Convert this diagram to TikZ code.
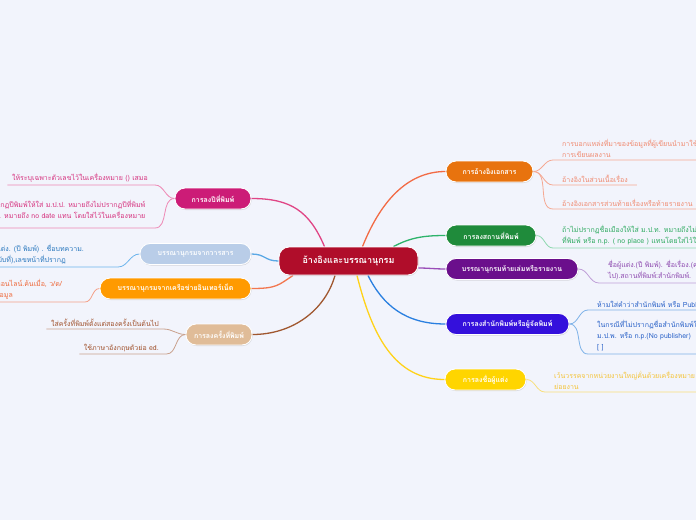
\documentclass[tikz,border=0pt]{standalone}
\usepackage{fontspec}
\setmainfont[Script=Thai]{Loma}
\usetikzlibrary{shadows,calc}
\pgfdeclarelayer{bgl}
\pgfdeclarelayer{lines}
\pgfsetlayers{bgl,lines,main}
\definecolor{bgc}{HTML}{F2F4FC}
\definecolor{cC}{HTML}{B00D2A}
\definecolor{cO}{HTML}{E8730E}
\definecolor{lO}{HTML}{F26B45}
\definecolor{tO}{HTML}{F08A70}
\definecolor{uO}{HTML}{F5A892}
\definecolor{cG}{HTML}{1F8B3B}
\definecolor{lG}{HTML}{2DB36B}
\definecolor{tG}{HTML}{2EAA60}
\definecolor{uG}{HTML}{8FD8B0}
\definecolor{cP}{HTML}{6B0F8C}
\definecolor{lP}{HTML}{9A4DB8}
\definecolor{tP}{HTML}{8E4BB0}
\definecolor{uP}{HTML}{C0A0D8}
\definecolor{cB}{HTML}{3410DC}
\definecolor{lB}{HTML}{2A7FE0}
\definecolor{tB}{HTML}{2A62C8}
\definecolor{uB}{HTML}{7EB2E8}
\definecolor{cY}{HTML}{FFD500}
\definecolor{lY}{HTML}{FFD21A}
\definecolor{tY}{HTML}{F4C43A}
\definecolor{uY}{HTML}{F8DF7A}
\definecolor{cM}{HTML}{CC1C77}
\definecolor{lM}{HTML}{E04585}
\definecolor{tM}{HTML}{D6337F}
\definecolor{uM}{HTML}{EE88B5}
\definecolor{cL}{HTML}{B9CDE8}
\definecolor{lL}{HTML}{5AA8E5}
\definecolor{tL}{HTML}{2A78BE}
\definecolor{uL}{HTML}{6CB4EC}
\definecolor{cOL}{HTML}{FF9A00}
\definecolor{lOL}{HTML}{F2774F}
\definecolor{tOL}{HTML}{EE6A3C}
\definecolor{uOL}{HTML}{F4A088}
\definecolor{cT}{HTML}{E0BC98}
\definecolor{lT}{HTML}{A0572F}
\definecolor{tT}{HTML}{A0522D}
\definecolor{uT}{HTML}{C9A08C}
\begin{document}
\begin{tikzpicture}[x=1pt,y=-1pt,
  topic/.style={rounded corners=10pt, draw=white, line width=0.9pt, text=white,
    font=\bfseries\fontsize{7}{8}\selectfont, minimum height=21pt, inner sep=0pt,
    drop shadow={opacity=0.25, shadow xshift=0.6pt, shadow yshift=-1pt}},
  rtext/.style={anchor=south west, inner xsep=9pt, inner ysep=2.5pt, align=left,
    font=\fontsize{7}{11}\selectfont},
  ltext/.style={anchor=south east, inner xsep=4.5pt, inner ysep=2.5pt, align=right,
    font=\fontsize{7}{11}\selectfont},
  branch/.style={line width=1.3pt},
  twig/.style={line width=0.8pt}]
\useasboundingbox (0,0) rectangle (696,520);
\begin{pgfonlayer}{bgl}
\fill[bgc] (0,0) rectangle (696,520);
\end{pgfonlayer}
\clip (0,0) rectangle (696,520);
% main nodes
\node[topic, fill=cC, minimum width=139pt, minimum height=28pt, font=\bfseries\fontsize{9}{10}\selectfont] (C) at (348.5,261) {อ้างอิงและบรรณานุกรม};
\node[topic, fill=cO, minimum width=87pt] (O) at (489.5,171.5) {การอ้างอิงเอกสาร};
\node[topic, fill=cG, minimum width=90pt] (G) at (491,235.5) {การลงสถานที่พิมพ์};
\node[topic, fill=cP, minimum width=132pt] (P) at (512,269) {บรรณานุกรมท้ายเล่มหรือรายงาน};
\node[topic, fill=cB, minimum width=123pt] (B) at (507.5,324) {การลงสำนักพิมพ์หรือผู้จัดพิมพ์};
\node[topic, fill=cY, minimum width=81pt] (Y) at (485.5,379.5) {การลงชื่อผู้แต่ง};
\node[topic, fill=cM, minimum width=76pt] (M) at (213,198.5) {การลงปีที่พิมพ์};
\node[topic, fill=cL, minimum width=111pt] (L) at (195.5,254) {บรรณานุกรมจากวารสาร};
\node[topic, fill=cOL, minimum width=151pt] (OL) at (175.5,288.5) {บรรณานุกรมจากเครือข่ายอินเทอร์เน็ต};
\node[topic, fill=cT, minimum width=66pt] (T) at (219,334.5) {การลงครั้งที่พิมพ์};
% child texts right
\node[rtext, text=tO] (o1) at (553,160) {การบอกแหล่งที่มาของข้อมูลที่ผู้เขียนนำมาใช้ใน\\การเขียนผลงาน};
\node[rtext, text=tO] (o2) at (553,185) {อ้างอิงในส่วนเนื้อเรื่อง};
\node[rtext, text=tO] (o3) at (553,209) {อ้างอิงเอกสารส่วนท้ายเรื่องหรือท้ายรายงาน};
\node[rtext, text=tG] (g1) at (553,248) {ถ้าไม่ปรากฏชื่อเมืองให้ใส่ ม.ป.ท. หมายถึงไม่ปรากฏสถาน\\ที่พิมพ์ หรือ n.p. ( no place ) แทนโดยใส่ไว้ใน};
\node[rtext, text=tP] (p1) at (599,283) {ชื่อผู้แต่ง.(ปี พิมพ์). ชื่อเรื่อง.(ครั้งที่พิมพ์\\ไป).สถานที่พิมพ์:สำนักพิมพ์.};
\node[rtext, text=tB] (b1) at (588,310) {ห้ามใส่คำว่าสำนักพิมพ์ หรือ Publisher};
\node[rtext, text=tB] (b2) at (588,354) {ในกรณีที่ไม่ปรากฏชื่อสำนักพิมพ์ให้ใส่\\ม.ป.พ. หรือ n.p.(No publisher)\\{[ ]}};
\node[rtext, text=tY] (y1) at (545,392) {เว้นวรรคจากหน่วยงานใหญ่คั่นด้วยเครื่องหมาย\\ย่อยงาน};
% child texts left
\node[ltext, text=tM] (m1) at (152.5,185) {ให้ระบุเฉพาะตัวเลขไว้ในเครื่องหมาย () เสมอ};
\node[ltext, text=tM, inner ysep=9pt] (m2) at (150,228) {ถ้าไม่ปรากฏปีพิมพ์ให้ใส่ ม.ป.ป. หมายถึงไม่ปรากฏปีที่พิมพ์\\หรือ n.d. หมายถึง no date แทน โดยใส่ไว้ในเครื่องหมาย};
\node[ltext, text=tL] (l1) at (88.5,267) {ชื่อผู้แต่ง. (ปี พิมพ์) . ชื่อบทความ.\\ชื่อวารสาร, ปีที่(ฉบับที่),เลขหน้าที่ปรากฏ\hspace*{18pt}};
\node[ltext, text=tOL] (ol1) at (66.5,302) {ชื่อผู้แต่ง. (ปี พิมพ์). ชื่อเรื่อง. ออนไลน์.ค้นเมื่อ, ว/ด/\\ปี, จากแหล่งข้อมูล\hspace*{49pt}};
\node[ltext, text=tT] (t1) at (163.5,329) {ใส่ครั้งที่พิมพ์ตั้งแต่สองครั้งเป็นต้นไป};
\node[ltext, text=tT] (t2) at (163.5,354) {ใช้ภาษาอังกฤษตัวย่อ ed.};
\begin{pgfonlayer}{lines}
% main branches
\draw[branch, lO] ([xshift=14pt]C.north) .. controls +(20,-50) and +(-35,0) .. (O.west);
\draw[branch, lG] ([xshift=45pt]C.north) .. controls +(17,-9) and +(-22,0) .. (G.west);
\draw[branch, lP] ([yshift=-7pt]C.east) .. controls +(10,0) and +(-10,0) .. (P.west);
\draw[branch, lB] ([xshift=19.5pt]C.south) .. controls +(15,30) and +(-40,0) .. (B.west);
\draw[branch, lY] ([xshift=8.5pt]C.south) .. controls +(15,60) and +(-50,0) .. (Y.west);
\draw[branch, lM] ([xshift=-24pt]C.north) .. controls +(-15,-35) and +(40,0) .. (M.east);
\draw[branch, lL] (C.west) .. controls +(-14,0) and +(14,0) .. (L.east);
\draw[branch, lOL] ([xshift=-55.5pt]C.south) .. controls +(-15,10) and +(25,0) .. (OL.east);
\draw[branch, lT] ([xshift=-13.5pt]C.south) .. controls +(-10,35) and +(40,0) .. (T.east);
% twigs right
\draw[twig, uO] (O.east) to[out=0,in=180] (o1.south west) -- (o1.south east);
\draw[twig, uO] (O.east) to[out=0,in=180] (o2.south west) -- (o2.south east);
\draw[twig, uO] (O.east) to[out=0,in=180] (o3.south west) -- (o3.south east);
\draw[twig, uG] (G.east) to[out=0,in=180] (g1.south west) -- (g1.south east);
\draw[twig, uP] (P.east) to[out=0,in=180] (p1.south west) -- (p1.south east);
\draw[twig, uB] (B.east) to[out=0,in=180] (b1.south west) -- (b1.south east);
\draw[twig, uB] (B.east) to[out=0,in=180] (b2.south west) -- (b2.south east);
\draw[twig, uY] (Y.east) to[out=0,in=180] (y1.south west) -- (y1.south east);
% twigs left
\draw[twig, uM] (M.west) to[out=180,in=0] ($(m1.south east)+(2.5,0)$) -- (m1.south west);
\draw[twig, uM] (M.west) to[out=180,in=0] ($(m2.south east)+(5,0)$) -- (m2.south west);
\draw[twig, uL] (L.west) to[out=180,in=0] ($(l1.south east)+(29.5,0)$) -- (l1.south west);
\draw[twig, uOL] (OL.west) to[out=180,in=0] ($(ol1.south east)+(18.5,0)$) -- (ol1.south west);
\draw[twig, uT] (T.west) to[out=180,in=0] (t1.south east) -- (t1.south west);
\draw[twig, uT] (T.west) to[out=180,in=0] ($(t2.south east)+(3,0)$) -- (t2.south west);
\end{pgfonlayer}
\end{tikzpicture}
\end{document}
